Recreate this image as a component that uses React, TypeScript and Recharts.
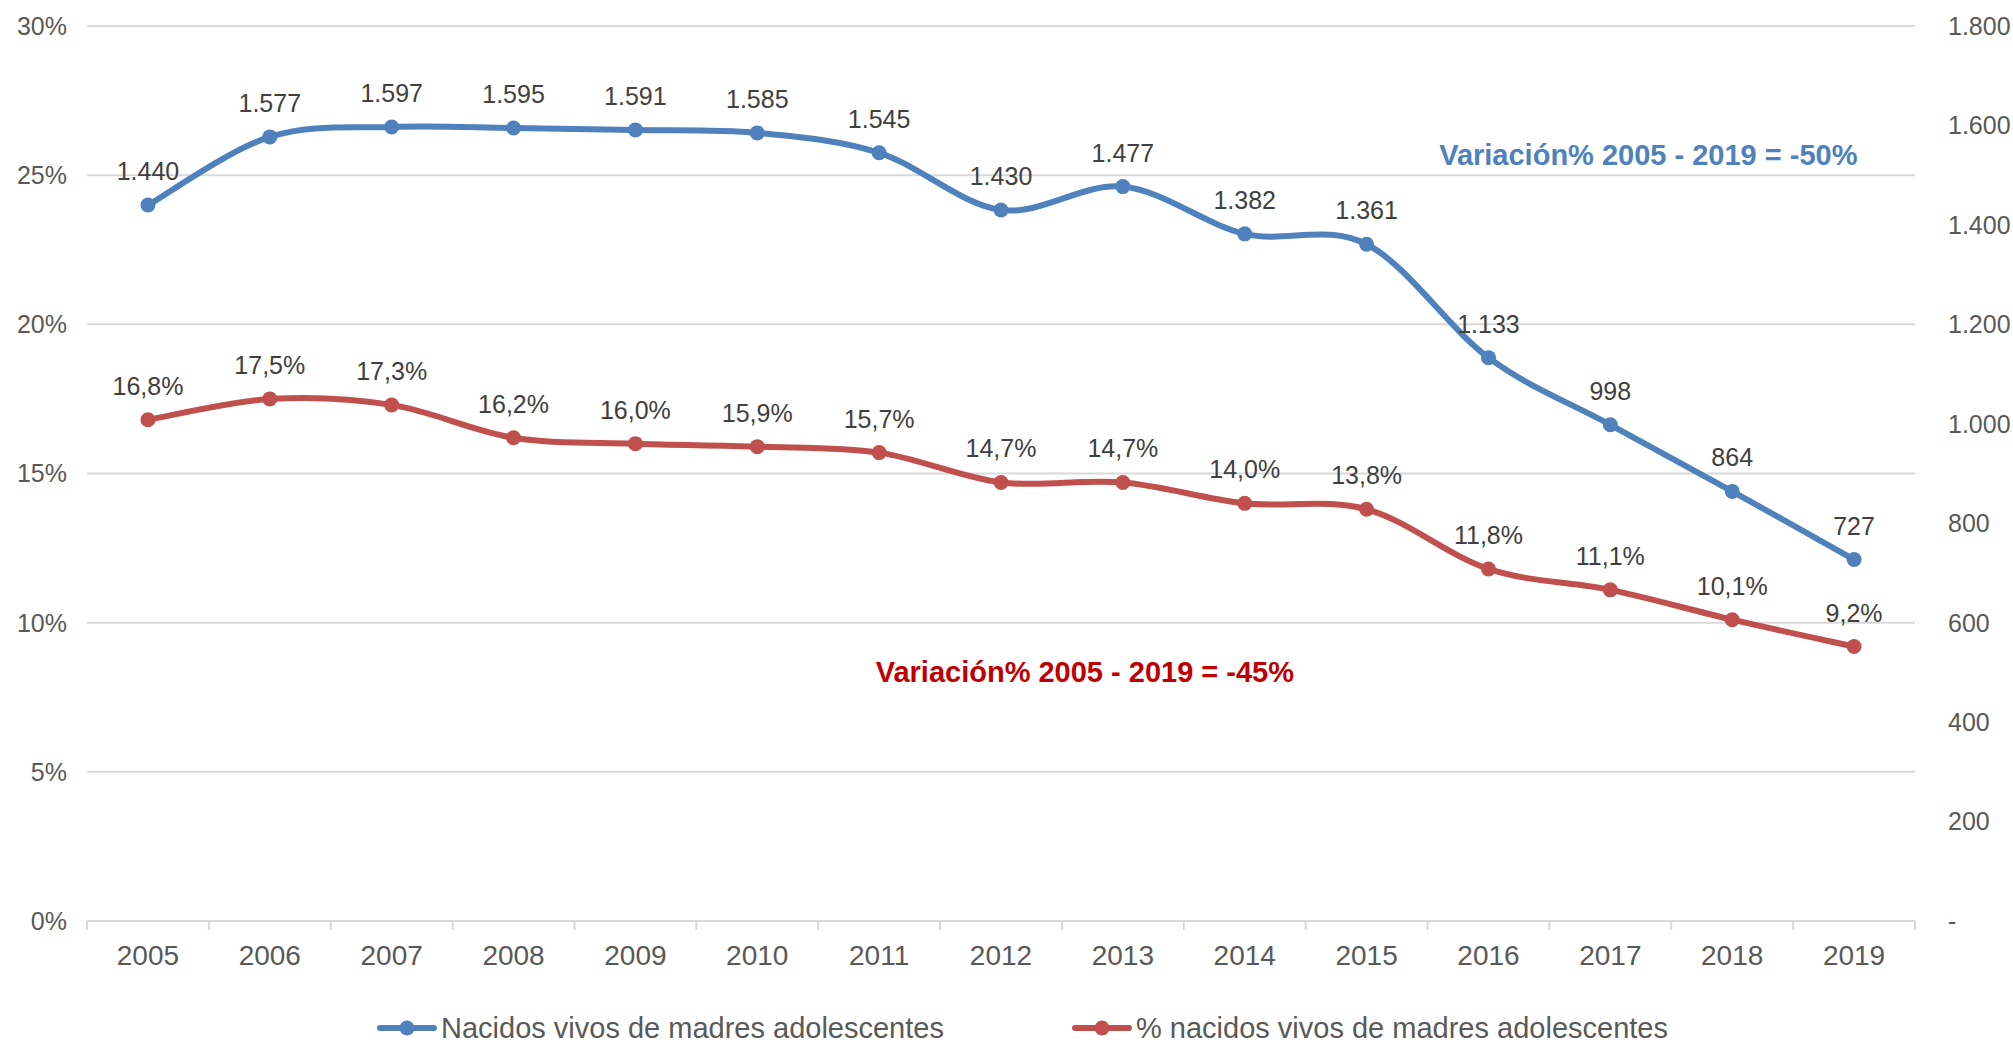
import React from 'react';
import { LineChart, Line, XAxis, YAxis, CartesianGrid, Legend, LabelList, ReferenceDot } from 'recharts';

const years = ['2005','2006','2007','2008','2009','2010','2011','2012','2013','2014','2015','2016','2017','2018','2019'];
const nacidos = [1440,1577,1597,1595,1591,1585,1545,1430,1477,1382,1361,1133,998,864,727];
const porcentaje = [16.8,17.5,17.3,16.2,16.0,15.9,15.7,14.7,14.7,14.0,13.8,11.8,11.1,10.1,9.2];
const leftTicks = [0,5,10,15,20,25,30];
const rightTicks = [0,200,400,600,800,1000,1200,1400,1600,1800];
const seriesNames = ['Nacidos vivos de madres adolescentes', '% nacidos vivos de madres adolescentes'];
const notes = ['Variación% 2005 - 2019 = -50%', 'Variación% 2005 - 2019 = -45%'];

const data = years.map((y, i) => ({ year: y, nacidos: nacidos[i], pct: porcentaje[i] }));

const W = 2013;
const H = 1043;
const LEFT_W = 87;
const RIGHT_W = 98;
const BAND = (W - LEFT_W - RIGHT_W) / years.length;
const FONT = '"Liberation Sans", Arial, sans-serif';
const BLUE = '#4F81BD';
const RED = '#C0504D';
const GRID = '#D9D9D9';
const TXT = '#595959';

const fmtThousands = (v: number) => (v === 0 ? '-' : v.toLocaleString('de-DE'));
const fmtPct = (v: number) => v.toFixed(1).replace('.', ',') + '%';

// Excel-like smoothing (Catmull-Rom as cubic Bezier)
function excelCurve(context: any) {
  let pts: number[][] = [];
  return {
    areaStart() {},
    areaEnd() {},
    lineStart() { pts = []; },
    point(x: number, y: number) { pts.push([+x, +y]); },
    lineEnd() {
      const n = pts.length;
      if (!n) return;
      context.moveTo(pts[0][0], pts[0][1]);
      for (let i = 0; i < n - 1; i++) {
        const p0 = pts[i - 1] || pts[i];
        const p1 = pts[i];
        const p2 = pts[i + 1];
        const p3 = pts[i + 2] || pts[i + 1];
        context.bezierCurveTo(
          p1[0] + (p2[0] - p0[0]) / 6, p1[1] + (p2[1] - p0[1]) / 6,
          p2[0] - (p3[0] - p1[0]) / 6, p2[1] - (p3[1] - p1[1]) / 6,
          p2[0], p2[1]
        );
      }
    },
  };
}

const makeLabel = (fmt: (v: number) => string) => (props: any) => {
  const x = props.x ?? props.viewBox?.x;
  const y = props.y ?? props.viewBox?.y;
  if (x == null || y == null) return null;
  return (
    <text x={x} y={y - 34} textAnchor="middle" dominantBaseline="central" fill="#404040" fontSize={25} fontFamily={FONT}>
      {fmt(props.value)}
    </text>
  );
};

const XTick = (props: any) => {
  const { x, y, payload, index } = props;
  const last = index === years.length - 1;
  return (
    <g>
      <line x1={x - BAND / 2} x2={x - BAND / 2} y1={y} y2={y + 9} stroke={GRID} strokeWidth={2} />
      {last && <line x1={x + BAND / 2} x2={x + BAND / 2} y1={y} y2={y + 9} stroke={GRID} strokeWidth={2} />}
      <text x={x} y={y + 34} textAnchor="middle" dominantBaseline="central" fill={TXT} fontSize={28} fontFamily={FONT}>
        {payload.value}
      </text>
    </g>
  );
};

const noteLabel = (text: string, color: string, dx: number) => (props: any) => {
  const vb = props.viewBox || {};
  const cx = (vb.x ?? 0) + (vb.width ?? 0) / 2;
  const cy = (vb.y ?? 0) + (vb.height ?? 0) / 2;
  return (
    <text x={cx + dx} y={cy} textAnchor="middle" dominantBaseline="central" fill={color} fontSize={29} fontWeight="bold" fontFamily={FONT}>
      {text}
    </text>
  );
};

const LegendIcon = ({ color }: { color: string }) => (
  <svg width={60} height={20} style={{ display: 'block' }}>
    <line x1={3} x2={57} y1={10} y2={10} stroke={color} strokeWidth={6} strokeLinecap="round" />
    <circle cx={30} cy={10} r={7.5} fill={color} />
  </svg>
);

const renderLegend = () => {
  const items = [
    { name: seriesNames[0], color: BLUE, left: 377 },
    { name: seriesNames[1], color: RED, left: 1072 },
  ];
  return (
    <div style={{ position: 'relative', width: W, height: 62 }}>
      {items.map((it) => (
        <div key={it.name} style={{ position: 'absolute', left: it.left, top: 33, height: 28, display: 'flex', alignItems: 'center' }}>
          <LegendIcon color={it.color} />
          <span style={{ marginLeft: 4, fontSize: 29, lineHeight: '28px', color: TXT, fontFamily: FONT, whiteSpace: 'nowrap' }}>{it.name}</span>
        </div>
      ))}
    </div>
  );
};

export default function App() {
  return (
    <div style={{ position: 'absolute', left: 0, top: 0, width: W, height: H, background: '#fff' }}>
      <LineChart width={W} height={H} data={data} margin={{ top: 26, right: 0, left: 0, bottom: 0 }}>
        <CartesianGrid yAxisId="left" vertical={false} stroke={GRID} strokeWidth={2} />
        <XAxis
          dataKey="year"
          height={60}
          interval={0}
          padding={{ left: BAND / 2, right: BAND / 2 }}
          axisLine={{ stroke: GRID, strokeWidth: 2 }}
          tickLine={false}
          tickSize={0}
          tickMargin={0}
          tick={<XTick />}
        />
        <YAxis
          yAxisId="left"
          width={LEFT_W}
          domain={[0, 30]}
          ticks={leftTicks}
          tickFormatter={(v: number) => v + '%'}
          axisLine={false}
          tickLine={false}
          tickSize={0}
          tickMargin={20}
          tick={{ fill: TXT, fontSize: 25, fontFamily: FONT }}
        />
        <YAxis
          yAxisId="right"
          orientation="right"
          width={RIGHT_W}
          domain={[0, 1800]}
          ticks={rightTicks}
          tickFormatter={fmtThousands}
          axisLine={false}
          tickLine={false}
          tickSize={0}
          tickMargin={33}
          tick={{ fill: TXT, fontSize: 25, fontFamily: FONT, textAnchor: 'start' }}
        />
        <Legend verticalAlign="bottom" height={62} content={renderLegend} wrapperStyle={{ left: 0, width: W }} />
        <Line
          yAxisId="right"
          dataKey="nacidos"
          name={seriesNames[0]}
          type={excelCurve as any}
          stroke={BLUE}
          strokeWidth={6}
          dot={{ r: 7.5, fill: BLUE, stroke: BLUE, strokeWidth: 0 }}
          activeDot={false}
          isAnimationActive={false}
        >
          <LabelList dataKey="nacidos" content={makeLabel(fmtThousands)} />
        </Line>
        <Line
          yAxisId="left"
          dataKey="pct"
          name={seriesNames[1]}
          type={excelCurve as any}
          stroke={RED}
          strokeWidth={6}
          dot={{ r: 7.5, fill: RED, stroke: RED, strokeWidth: 0 }}
          activeDot={false}
          isAnimationActive={false}
        >
          <LabelList dataKey="pct" content={makeLabel(fmtPct)} />
        </Line>
        <ReferenceDot yAxisId="right" x="2017" y={1540} r={1} fill="none" stroke="none" ifOverflow="visible" label={noteLabel(notes[0], BLUE, 38)} />
        <ReferenceDot yAxisId="left" x="2013" y={8.34} r={1} fill="none" stroke="none" ifOverflow="visible" label={noteLabel(notes[1], '#C00000', -38)} />
      </LineChart>
    </div>
  );
}
